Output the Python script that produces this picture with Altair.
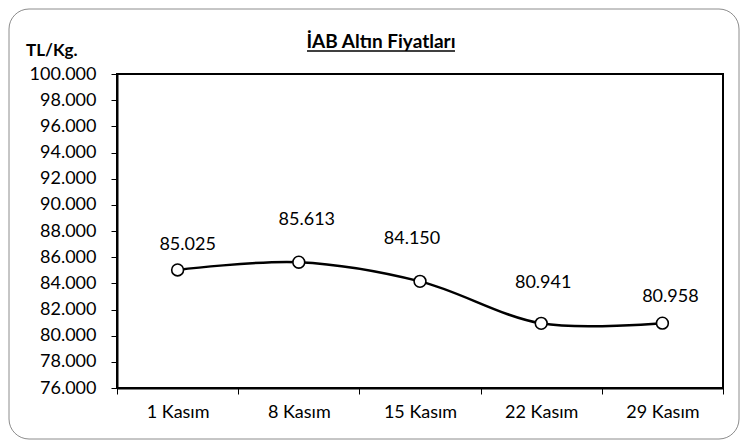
import altair as alt
import pandas as pd

categories = ["1 Kasım", "8 Kasım", "15 Kasım", "22 Kasım", "29 Kasım"]
prices = [85025, 85613, 84150, 80941, 80958]
price_labels = ["85.025", "85.613", "84.150", "80.941", "80.958"]
y_ticks = list(range(76000, 100001, 2000))
chart_title = "İAB Altın Fiyatları"
unit_label = "TL/Kg."

# label placement offsets (pixels), as in the reference
label_dx = [10, 8, -8, 2, 8]
label_dy = [-25, -42, -42, -40, -26]

df = pd.DataFrame({"date": categories, "price": prices, "label": price_labels})

W, H = 606, 314
FONT = "Lato"

x_enc = alt.X(
    "date:N", sort=categories,
    scale=alt.Scale(type="band", paddingInner=0, paddingOuter=0),
    axis=alt.Axis(title=None, labelAngle=0, tickBand="extent", tickSize=6,
                  tickColor="black", domainColor="black", domainWidth=2,
                  labelFont=FONT, labelFontSize=18, labelColor="black",
                  labelPadding=9, labelOverlap=False),
)
y_enc = alt.Y(
    "price:Q",
    scale=alt.Scale(domain=[76000, 100000], nice=False, zero=False),
    axis=alt.Axis(title=None, values=y_ticks, grid=False,
                  labelExpr="replace(format(datum.value, ','), ',', '.')",
                  tickSize=6, tickColor="black", domainColor="black", domainWidth=2,
                  labelFont=FONT, labelFontSize=18, labelColor="black",
                  labelPadding=15, labelOverlap=False),
)

base = alt.Chart(df)
one = alt.Chart(alt.Data(values=[{}]))

border = one.mark_rect(fillOpacity=0, stroke="#8c8c8c", strokeWidth=1,
                       cornerRadius=20).encode(
    x=alt.value(-108), x2=alt.value(622), y=alt.value(-65), y2=alt.value(365))

line = base.mark_line(interpolate="catmull-rom", color="black",
                      strokeWidth=2.5).encode(x=x_enc, y=y_enc)
points = base.mark_point(shape="circle", filled=True, fill="white",
                         stroke="black", strokeWidth=1.6, size=140,
                         opacity=1).encode(x=x_enc, y=y_enc)

label_layers = []
for i, cat in enumerate(categories):
    label_layers.append(
        base.transform_filter(alt.datum.date == cat)
        .mark_text(font=FONT, fontSize=18, color="black",
                   dx=label_dx[i], dy=label_dy[i])
        .encode(x=x_enc, y=y_enc, text="label:N")
    )

title_text = one.mark_text(font=FONT, fontSize=19, fontWeight="bold",
                           color="black", align="center",
                           baseline="alphabetic").encode(
    x=alt.value(264), y=alt.value(-26), text=alt.value(chart_title))
underline = one.mark_rule(color="black", strokeWidth=1.5).encode(
    x=alt.value(190), x2=alt.value(338), y=alt.value(-23))
unit_text = one.mark_text(font=FONT, fontSize=17, fontWeight="bold",
                          color="black", align="left",
                          baseline="alphabetic").encode(
    x=alt.value(-91), y=alt.value(-18), text=alt.value(unit_label))

chart = alt.layer(border, line, points, *label_layers, title_text, underline,
                  unit_text).properties(
    width=W, height=H,
    autosize=alt.AutoSizeParams(type="none"),
    padding={"left": 109, "top": 66, "right": 17, "bottom": 52},
    background="white",
).configure_view(stroke="black", strokeWidth=2).configure_axis(
    ticks=True, tickWidth=1, labelOverlap=False)

chart.save("out.html", embed_options={"renderer": "svg", "actions": False})
